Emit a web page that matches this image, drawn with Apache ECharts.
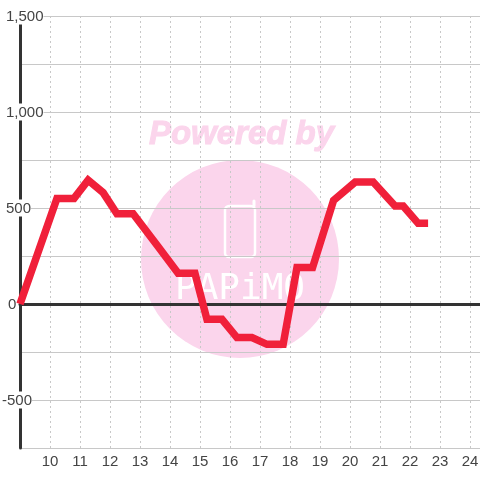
<!DOCTYPE html>
<html>
<head>
<meta charset="utf-8">
<style>
  html, body { margin: 0; padding: 0; background: #fff; }
  #chart { width: 480px; height: 480px; }
</style>
<script src="https://cdn.jsdelivr.net/npm/echarts@6/dist/echarts.min.js"></script>
</head>
<body>
<div id="chart"></div>
<script>
// hour of the day
const hours = [9, 10.23, 10.8, 11.27, 11.77, 12.23, 12.77, 13.6, 14.27, 14.83, 15.23, 15.73, 16.23, 16.73, 17.23, 17.77, 18.23, 18.75, 19.45, 20.17, 20.77, 21.5, 21.77, 22.27, 22.6]
const values = [0, 550, 550, 645, 580, 470, 470, 300, 160, 160, -80, -80, -175, -175, -210, -210, 190, 190, 540, 635, 635, 510, 510, 420, 420]
const yTickLabels = { '1500': '1,500', '1000': '1,000', '500': '500', '0': '0', '-500': '-500' }
const poweredBy = 'Powered by'
const brand = 'PAPiMO'

const gridColor = '#c8c8c8'
const darkLine = '#333333'
const textColor = '#444444'
const pink = '#fbd5ec'

const option = {
  animation: false,
  grid: { left: 20, right: 0, top: 16, bottom: 32, outerBoundsMode: 'none' },
  graphic: {
    z: -10,
    elements: [
      { type: 'circle', shape: { cx: 240, cy: 259, r: 99 }, style: { fill: pink }, silent: true },
      {
        type: 'text',
        x: 241.5,
        y: 135,
        style: {
          text: poweredBy,
          fill: pink,
          stroke: pink,
          lineWidth: 1,
          font: 'italic bold 33px "Liberation Sans"',
          align: 'center',
          verticalAlign: 'middle'
        }
      },
      {
        type: 'rect',
        shape: { x: 225, y: 206, width: 30, height: 51, r: 4 },
        style: { fill: 'none', stroke: '#fff', lineWidth: 2.5 }
      },
      {
        type: 'line',
        shape: { x1: 254, y1: 201, x2: 254, y2: 206 },
        style: { stroke: '#fff', lineWidth: 3, lineCap: 'round' }
      },
      {
        type: 'text',
        x: 240,
        y: 290,
        style: {
          text: brand,
          fill: '#fff',
          font: '36px "DejaVu Sans Mono"',
          align: 'center',
          verticalAlign: 'middle'
        }
      }
    ]
  },
  xAxis: [
    {
      type: 'value',
      min: 9,
      max: 24.33,
      interval: 1,
      axisLine: { show: false, onZero: false },
      axisTick: { show: false },
      axisLabel: {
        color: textColor,
        fontSize: 15,
        fontFamily: 'Liberation Sans',
        margin: 6,
        showMinLabel: false,
        showMaxLabel: false
      },
      splitLine: {
        show: true,
        showMinLine: false,
        showMaxLine: false,
        lineStyle: { color: gridColor, type: [2, 3], width: 1 }
      }
    },
    {
      // zero line, the labels stay at the bottom on the other axis
      type: 'value',
      position: 'top',
      min: 9,
      max: 24.33,
      interval: 1,
      axisLine: { show: true, onZero: true, lineStyle: { color: darkLine, width: 3 } },
      axisTick: { show: false },
      axisLabel: { show: false },
      splitLine: { show: false }
    }
  ],
  yAxis: {
    type: 'value',
    min: -750,
    max: 1500,
    interval: 250,
    axisLine: { show: true, onZero: false, lineStyle: { color: darkLine, width: 3 } },
    axisTick: { show: false },
    axisLabel: {
      margin: 18,
      align: 'left',
      color: textColor,
      fontSize: 15,
      fontFamily: 'Liberation Sans',
      formatter: function (val) {
        const text = yTickLabels[val]
        if (!text) return ''
        const style = val === 0 ? 'zero' : val === -500 ? 'neg' : 'pos'
        return '{' + style + '|' + text + '}'
      },
      rich: {
        pos: { backgroundColor: '#fff', padding: [2, 0, 0, 4], fontSize: 15, color: textColor },
        zero: { backgroundColor: '#fff', padding: [2, 0, 0, 6], fontSize: 15, color: textColor },
        neg: { backgroundColor: '#fff', padding: [2, 0, 0, 0], fontSize: 15, color: textColor }
      }
    },
    splitLine: { show: true, lineStyle: { color: gridColor, width: 1 } }
  },
  series: [
    {
      type: 'line',
      xAxisIndex: 0,
      data: hours.map((h, i) => [h, values[i]]),
      symbol: 'none',
      z: 5,
      lineStyle: { color: '#f0203a', width: 7.5, join: 'miter', cap: 'butt' }
    }
  ]
}

const myChart = echarts.init(document.getElementById('chart'))
myChart.setOption(option)
</script>
</body>
</html>
